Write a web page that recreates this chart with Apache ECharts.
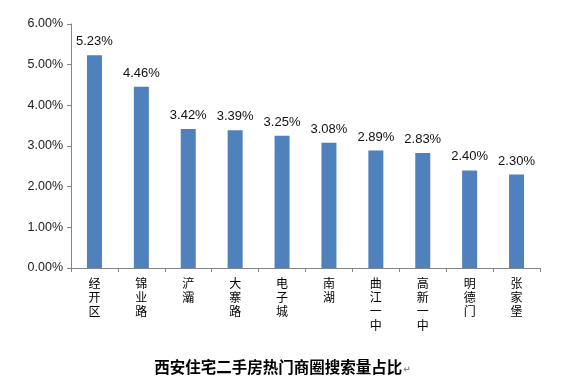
<!DOCTYPE html>
<html>
<head>
<meta charset="utf-8">
<script src="https://cdn.jsdelivr.net/npm/echarts@6/dist/echarts.min.js"></script>
<style>html,body{margin:0;padding:0;background:#fff;}#c{width:565px;height:381px;}</style>
</head>
<body>
<div id="c"></div>
<script>
var categories = ['经开区', '锦业路', '浐灞', '大寨路', '电子城', '南湖', '曲江一中', '高新一中', '明德门', '张家堡'];
var shares = [5.23, 4.46, 3.42, 3.39, 3.25, 3.08, 2.89, 2.83, 2.40, 2.30];
var titleText = '西安住宅二手房热门商圈搜索量占比';

var chart = echarts.init(document.getElementById('c'), null, {renderer: 'canvas'});
chart.setOption({
  animation: false,
  backgroundColor: '#ffffff',
  title: {
    text: '{t|' + titleText + '}{r|↵}',
    left: 'center',
    top: 354,
    textStyle: {
      rich: {
        t: {fontFamily: 'Noto Sans CJK SC', fontWeight: 'bold', fontSize: 15.5, color: '#000'},
        r: {fontFamily: 'DejaVu Sans', fontSize: 9, color: '#888', padding: [6, 0, 0, 1]}
      }
    }
  },
  grid: {left: 71, right: 25, top: 24, bottom: 113, containLabel: false},
  xAxis: {
    type: 'category',
    data: categories,
    axisLine: {lineStyle: {color: '#868686', width: 1}},
    axisTick: {show: true, alignWithLabel: false, length: 4, lineStyle: {color: '#868686'}},
    axisLabel: {
      interval: 0,
      margin: 8,
      color: '#000',
      fontFamily: 'Noto Sans CJK SC',
      fontSize: 12,
      lineHeight: 14,
      verticalAlign: 'top',
      formatter: function (v) { return v.split('').join('\n'); }
    }
  },
  yAxis: {
    type: 'value',
    min: 0,
    max: 6,
    interval: 1,
    splitLine: {show: false},
    axisLine: {show: true, lineStyle: {color: '#868686', width: 1}},
    axisTick: {show: true, inside: false, length: 4, lineStyle: {color: '#868686'}},
    axisLabel: {
      margin: 8,
      color: '#222',
      fontFamily: 'Liberation Sans',
      fontSize: 12.5,
      formatter: function (v) { return v.toFixed(2) + '%'; }
    }
  },
  series: [{
    type: 'bar',
    data: shares,
    barWidth: 15,
    itemStyle: {color: '#4F81BD'},
    label: {
      show: true,
      position: 'top',
      distance: 7,
      color: '#111',
      fontFamily: 'Liberation Sans',
      fontSize: 13,
      formatter: function (p) { return p.value.toFixed(2) + '%'; }
    }
  }]
});
</script>
</body>
</html>
